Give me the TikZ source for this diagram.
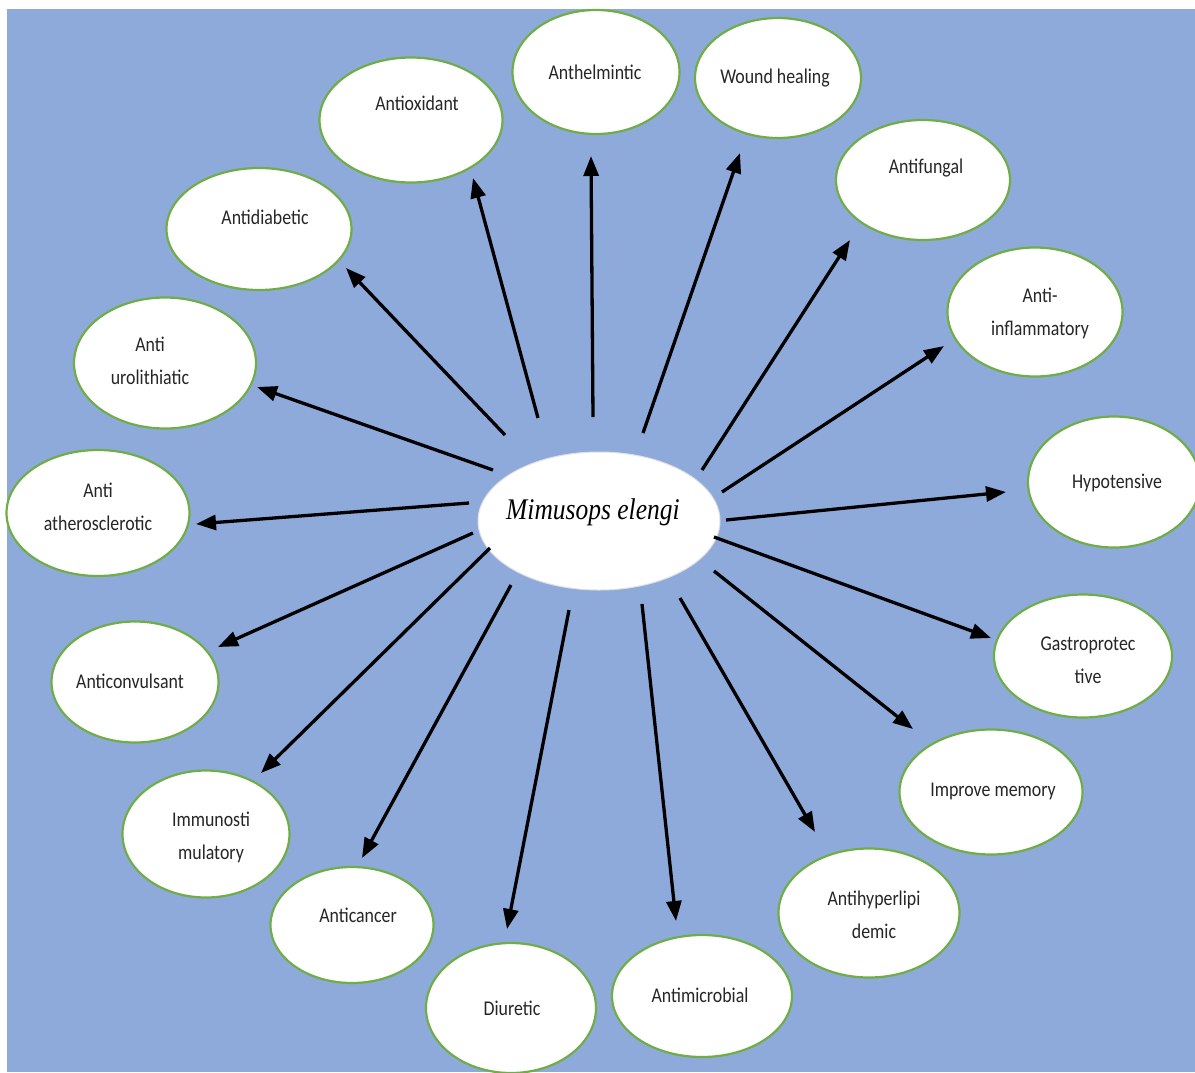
\documentclass[tikz,border=0pt]{standalone}
\usepackage{fontspec}
\setmainfont{Liberation Serif}
\newfontfamily\lblfont[FakeStretch=0.85]{Carlito}
\newfontfamily\hubfont[FakeStretch=0.85]{Liberation Serif}
\usetikzlibrary{arrows.meta,shapes.geometric}
\definecolor{bgblue}{HTML}{8EAADB}
\definecolor{rimgreen}{HTML}{70AD47}
\tikzset{
  bub/.style={draw=rimgreen,line width=2.2pt,fill=white,ellipse,inner sep=0pt},
  hub/.style={draw=gray!25,line width=1pt,fill=white,ellipse,inner sep=0pt,minimum width=242pt,minimum height=138pt},
  arr/.style={-{Triangle[length=20pt,width=15pt]},line width=3.3pt},
  lbl/.style={font=\lblfont\fontsize{21}{33}\selectfont,align=center,text=black!85,inner sep=0pt},
}

\begin{document}
\begin{tikzpicture}[x=1pt,y=-1pt]
 \useasboundingbox (0,0) rectangle (1195,1072);
 \clip (0,0) rectangle (1195,1072);
 \fill[bgblue] (7,9) rectangle (1195,1072);
 % outer ellipses: name/x/y/width/height
 \foreach \n/\x/\y/\w/\h in {anth/596/72/167/124, wound/778/78/166/120, antiox/411/120/183/125,
   fung/923/180/174/120, diab/259/229/185/122, infl/1035/312/175/129, uro/165/363/182/131,
   hypo/1114/482/172/131, ather/98/513/183/126, gastro/1083/656/178/123, conv/135/682/167/121,
   memo/991/792/183/125, immu/206/834/167/127, lipi/869/913/181/129, canc/352/925/163/116,
   micro/702/996/180/122, diur/511/1008/170/130}
  \node[bub,minimum width=\w pt,minimum height=\h pt] (\n) at (\x,\y) {};
 \node[hub] (m) at (599,521) {};
 % texts
 \node[font=\hubfont\itshape\fontsize{30}{30}\selectfont,inner sep=0pt] (m-t) at (593,512) {Mimusops elengi};
 \node[lbl] (anth-t) at (595,72) {Anthelmintic};
 \node[lbl] (wound-t) at (775,78) {Wound healing};
 \node[lbl] (antiox-t) at (417,103) {Antioxidant};
 \node[lbl] (fung-t) at (926,168) {Antifungal};
 \node[lbl] (diab-t) at (265,217) {Antidiabetic};
 \node[lbl] (infl-t) at (1040,313) {Anti-\\inflammatory};
 \node[lbl] (uro-t) at (150,361) {Anti\\urolithiatic};
 \node[lbl] (hypo-t) at (1117,483) {Hypotensive};
 \node[lbl] (ather-t) at (98,507) {Anti\\atherosclerotic};
 \node[lbl] (gastro-t) at (1088,660) {Gastroprotec\\tive};
 \node[lbl] (conv-t) at (130,681) {Anticonvulsant};
 \node[lbl] (memo-t) at (993,791) {Improve memory};
 \node[lbl] (immu-t) at (211,837) {Immunosti\\mulatory};
 \node[lbl] (lipi-t) at (874,915) {Antihyperlipi\\demic};
 \node[lbl] (canc-t) at (358,915) {Anticancer};
 \node[lbl] (micro-t) at (700,995) {Antimicrobial};
 \node[lbl] (diur-t) at (512,1008) {Diuretic};
 % arrows: target/start x/y/tip x/y
 \foreach \n/\sx/\sy/\ex/\ey in {anth/593/417/591/156, wound/643/433/740/153, antiox/538/418/473/178,
   fung/702/470/850/240, diab/505/435/346/268, infl/722/492/944/346, uro/493/470/257/387,
   hypo/726/520/1006/492, ather/469/503/196/524, gastro/714/537/991/638, conv/473/533/218/647,
   memo/714/571/913/729, immu/490/548/261/773, lipi/680/598/815/832, canc/511/585/362/858,
   micro/642/604/676/921, diur/569/610/507/929}
 {
  \coordinate (\n-s) at (\sx,\sy);
  \coordinate (\n-e) at (\ex,\ey);
  \draw[arr] (\n-s) -- (\n-e);
 }
\end{tikzpicture}
\end{document}
